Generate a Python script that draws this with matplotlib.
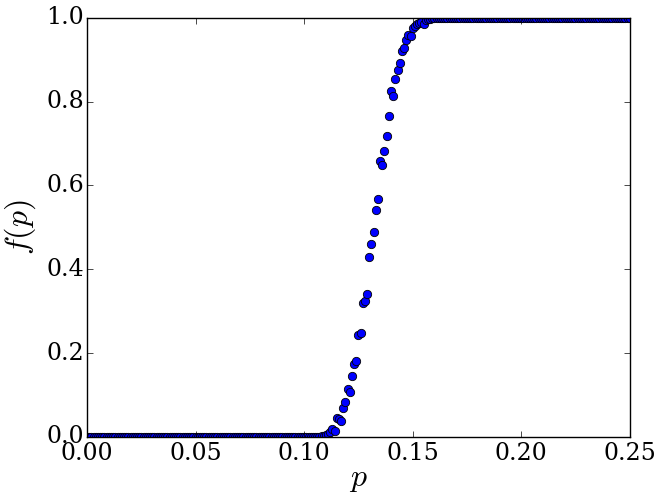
import matplotlib
matplotlib.use("Agg")
import matplotlib.pyplot as plt, numpy as np

plt.style.use("classic")
plt.rcParams["font.family"] = "serif"
plt.rcParams["font.serif"] = ["DejaVu Serif"]
plt.rcParams["mathtext.fontset"] = "cm"

# sample points p = 0.000 ... 0.250 in steps of 0.001
p = np.arange(251) / 1000.0

f_low = [0.0] * 108  # p = 0.000 .. 0.107
f_mid = [0.002, 0.003, 0.005, 0.008, 0.012, 0.018, 0.014, 0.046, 0.043, 0.038,
         0.070, 0.084, 0.115, 0.108, 0.145, 0.174, 0.181, 0.243, 0.249, 0.319,
         0.325, 0.341, 0.429, 0.461, 0.489, 0.541, 0.567, 0.659, 0.649, 0.682,
         0.718, 0.766, 0.826, 0.814, 0.854, 0.875, 0.893, 0.922, 0.928, 0.947,
         0.959, 0.957, 0.976, 0.981, 0.986, 0.988, 0.990, 0.986, 0.995, 0.997,
         0.998, 0.999]  # p = 0.108 .. 0.159
f_high = [1.0] * 91  # p = 0.160 .. 0.250
f = np.array(f_low + f_mid + f_high)

fig = plt.figure(figsize=(6.65, 4.97), dpi=100, facecolor="white")
ax = fig.add_axes([0.131, 0.121, 0.816, 0.843])
ax.plot(p, f, "o", color="blue", markeredgecolor="black", markeredgewidth=0.6,
        markersize=6)
ax.set_xlim(0, 0.25)
ax.set_ylim(0, 1.0)
ax.set_xticks([0.0, 0.05, 0.10, 0.15, 0.20, 0.25])
ax.set_xticklabels(["0.00", "0.05", "0.10", "0.15", "0.20", "0.25"])
ax.set_yticks([0.0, 0.2, 0.4, 0.6, 0.8, 1.0])
ax.tick_params(labelsize=17)
ax.tick_params(axis="y", pad=2)
ax.tick_params(axis="x", pad=4)
ax.set_xlabel("$p$", fontsize=23, labelpad=-2)
ax.set_ylabel("$f(p)$", fontsize=23, labelpad=6)
fig.savefig("out.png", dpi=100, facecolor="white")
